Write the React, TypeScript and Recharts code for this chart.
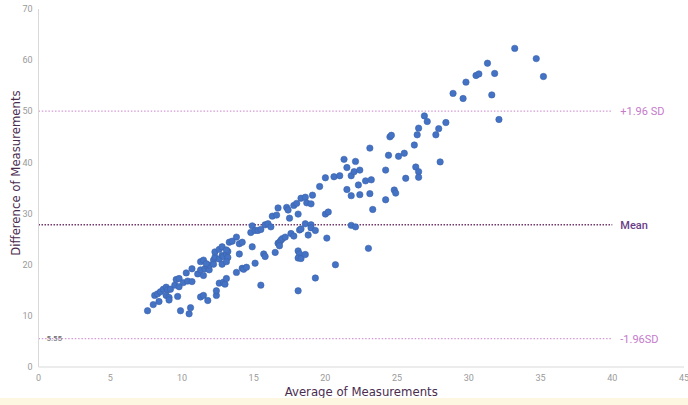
import React from 'react';
import { ScatterChart, Scatter, XAxis, YAxis, ReferenceLine, Label } from 'recharts';

// Bland-Altman style data
const averages = [
  7.6, 8.0, 8.1, 8.4, 8.3, 8.5, 8.7, 8.9, 9.0, 9.2,
  8.9, 9.1, 9.1, 9.5, 9.6, 9.8, 9.7, 9.8, 9.9, 10.5,
  10.6, 10.1, 10.4, 10.3, 10.7, 10.7, 11.1, 11.3, 11.3, 11.5,
  11.5, 11.6, 11.8, 11.9, 11.9, 12.2, 12.3, 12.3, 12.6, 12.8,
  12.6, 12.8, 12.9, 13.1, 13.2, 13.1, 13.2, 12.8, 11.3, 11.5,
  11.8, 12.4, 12.4, 12.6, 12.9, 13.0, 13.1, 13.3, 13.5, 13.8,
  14.0, 14.2, 14.0, 13.8, 14.2, 14.3, 14.5, 14.9, 14.8, 15.1,
  15.3, 15.5, 14.9, 15.1, 15.5, 15.7, 15.8, 15.8, 16.0, 16.2,
  16.3, 16.6, 16.7, 16.5, 16.7, 16.8, 16.9, 17.0, 17.2, 16.8,
  17.3, 17.4, 17.5, 17.8, 18.0, 18.1, 18.3, 18.6, 18.7, 19.0,
  19.1, 17.6, 17.8, 18.2, 18.3, 18.6, 19.0, 19.0, 19.3, 18.8,
  18.1, 18.2, 18.1, 18.3, 18.6, 18.1, 19.3, 20.1, 20.0, 20.2,
  20.7, 19.6, 21.5, 20.0, 20.6, 21.0, 21.3, 21.5, 22.1, 21.8,
  22.0, 22.4, 21.8, 22.3, 22.4, 22.8, 23.2, 23.1, 23.3, 23.1,
  21.8, 22.1, 23.0, 24.2, 24.4, 24.5, 24.6, 24.2, 24.8, 24.9,
  25.1, 25.5, 25.6, 26.2, 26.3, 26.5, 26.5, 26.4, 26.5, 26.9,
  27.1, 27.7, 27.9, 28.0, 28.4, 28.9, 29.6, 29.8, 30.5, 30.7,
  31.3, 31.8, 31.6, 32.1, 33.2, 34.7, 35.2, 12.2, 11.7, 13.1,
];

const differences = [
  11.0, 12.2, 14.0, 12.8, 14.3, 14.7, 15.2, 15.6, 15.1, 15.2,
  14.0, 13.6, 13.1, 16.0, 17.1, 17.3, 13.8, 15.7, 11.0, 10.4,
  11.6, 16.5, 16.8, 18.4, 19.2, 16.7, 18.2, 19.0, 20.6, 20.9,
  17.9, 19.2, 19.6, 19.0, 19.9, 20.9, 21.5, 22.5, 21.1, 21.8,
  23.0, 23.5, 21.6, 22.1, 22.6, 22.9, 21.4, 20.1, 13.7, 14.0,
  13.0, 14.0, 14.9, 16.4, 16.6, 16.2, 17.3, 24.4, 24.6, 25.4,
  24.1, 24.4, 22.1, 18.5, 19.3, 19.1, 19.5, 27.6, 26.3, 26.7,
  26.7, 26.9, 23.5, 20.3, 16.0, 22.1, 21.6, 27.8, 28.0, 27.4,
  29.5, 29.7, 31.1, 22.4, 24.2, 24.4, 24.8, 25.1, 25.4, 23.7,
  31.2, 30.7, 29.1, 31.6, 32.0, 29.9, 33.0, 33.2, 32.1, 31.9,
  33.6, 26.1, 25.6, 26.8, 27.0, 28.0, 27.8, 27.2, 26.7, 25.8,
  22.7, 22.1, 21.3, 21.2, 22.0, 14.9, 17.4, 25.2, 29.9, 30.3,
  20.0, 35.3, 34.7, 37.0, 37.2, 37.4, 40.6, 39.0, 40.2, 37.4,
  38.2, 38.5, 33.5, 35.6, 33.7, 36.4, 36.6, 33.9, 30.8, 42.8,
  27.7, 27.4, 23.2, 38.5, 41.4, 45.0, 45.3, 32.7, 34.6, 34.0,
  41.2, 41.8, 36.9, 43.4, 39.1, 38.2, 37.1, 45.4, 46.7, 49.1,
  48.0, 45.4, 46.6, 40.1, 47.8, 53.5, 52.5, 55.7, 57.0, 57.3,
  59.4, 57.4, 53.2, 48.4, 62.3, 60.3, 56.8, 20.1, 20.2, 20.6,
];

const xTicks = [0, 5, 10, 15, 20, 25, 30, 35, 40, 45];
const yTicks = [0, 10, 20, 30, 40, 50, 60, 70];

const lowerLimit = 5.55;
const meanDiff = 27.8;
const upperLimit = 50.05;
const limitEnd = 40;

const points = averages.map((a, i) => ({ avg: a, diff: differences[i] }));

const titleFont = "'Liberation Sans Narrow', 'DejaVu Sans Condensed', 'Roboto', sans-serif";
const tickFont = "'Liberation Sans Narrow', 'Roboto', sans-serif";
const labelFont = "Roboto, 'Noto Sans', sans-serif";

const Dot = (props: any) => (
  <circle cx={props.cx} cy={props.cy} r={3.2} fill="#4472c4" stroke="#3a63ab" strokeWidth={0.6} />
);

const seg = (v: number) => [{ x: 0, y: v }, { x: limitEnd, y: v }];

export default function App() {
  return (
    <div
      style={{
        width: 688,
        height: 405,
        background: '#fff',
        position: 'relative',
        overflow: 'hidden',
        fontFamily: labelFont,
      }}
    >
      <style>{'body{margin:0}'}</style>
      <ScatterChart width={688} height={398} margin={{ top: 9, right: 4, bottom: 0, left: 0 }}>
        <XAxis
          type="number"
          dataKey="avg"
          domain={[0, 45]}
          ticks={xTicks}
          interval={0}
          height={31}
          axisLine={{ stroke: '#d9d9d9' }}
          tickLine={false}
          tick={{ fill: '#9a9a9a', fontSize: 9, fontFamily: tickFont }}
        >
          <Label
            value="Average of Measurements"
            position="insideBottom"
            offset={2}
            fill="#4a2c4f"
            fontSize={13}
            fontFamily={titleFont}
          />
        </XAxis>
        <YAxis
          type="number"
          dataKey="diff"
          domain={[0, 70]}
          ticks={yTicks}
          interval={0}
          width={38.5}
          tickSize={4}
          axisLine={{ stroke: '#d9d9d9' }}
          tickLine={false}
          tick={{ fill: '#9a9a9a', fontSize: 9, fontFamily: tickFont }}
        >
          <Label
            content={() => (
              <text
                transform="translate(15,173) rotate(-90)"
                textAnchor="middle"
                dominantBaseline="central"
                fill="#4a2c4f"
                fontSize={13}
                fontFamily={titleFont}
              >
                Difference of Measurements
              </text>
            )}
          />
        </YAxis>
        <ReferenceLine
          segment={seg(upperLimit)}
          stroke="#d49bd6"
          strokeWidth={1.3}
          strokeDasharray="1.5 1.8"
          label={{ value: '+1.96 SD', position: 'right', offset: 8, fill: '#c57acb', fontSize: 11, fontFamily: labelFont }}
        />
        <ReferenceLine
          segment={seg(meanDiff)}
          stroke="#74386f"
          strokeWidth={1.6}
          strokeDasharray="1.5 1.5"
          label={{ value: 'Mean', position: 'right', offset: 8, fill: '#6a3d86', fontSize: 11, fontWeight: 500, fontFamily: labelFont }}
        />
        <ReferenceLine
          segment={seg(lowerLimit)}
          stroke="#d49bd6"
          strokeWidth={1.3}
          strokeDasharray="1.5 1.8"
          label={{ value: '-1.96SD', position: 'right', offset: 8, fill: '#c57acb', fontSize: 11, fontFamily: labelFont }}
        />
        <ReferenceLine
          y={lowerLimit}
          stroke="none"
          label={{ value: '5.55', position: 'insideLeft', offset: 8, fill: '#666', fontSize: 8, fontFamily: labelFont }}
        />
        <Scatter data={points} shape={Dot} isAnimationActive={false} />
      </ScatterChart>
      <div style={{ position: 'absolute', left: 0, top: 398, width: 688, height: 7, background: '#fdf6e1' }} />
    </div>
  );
}
